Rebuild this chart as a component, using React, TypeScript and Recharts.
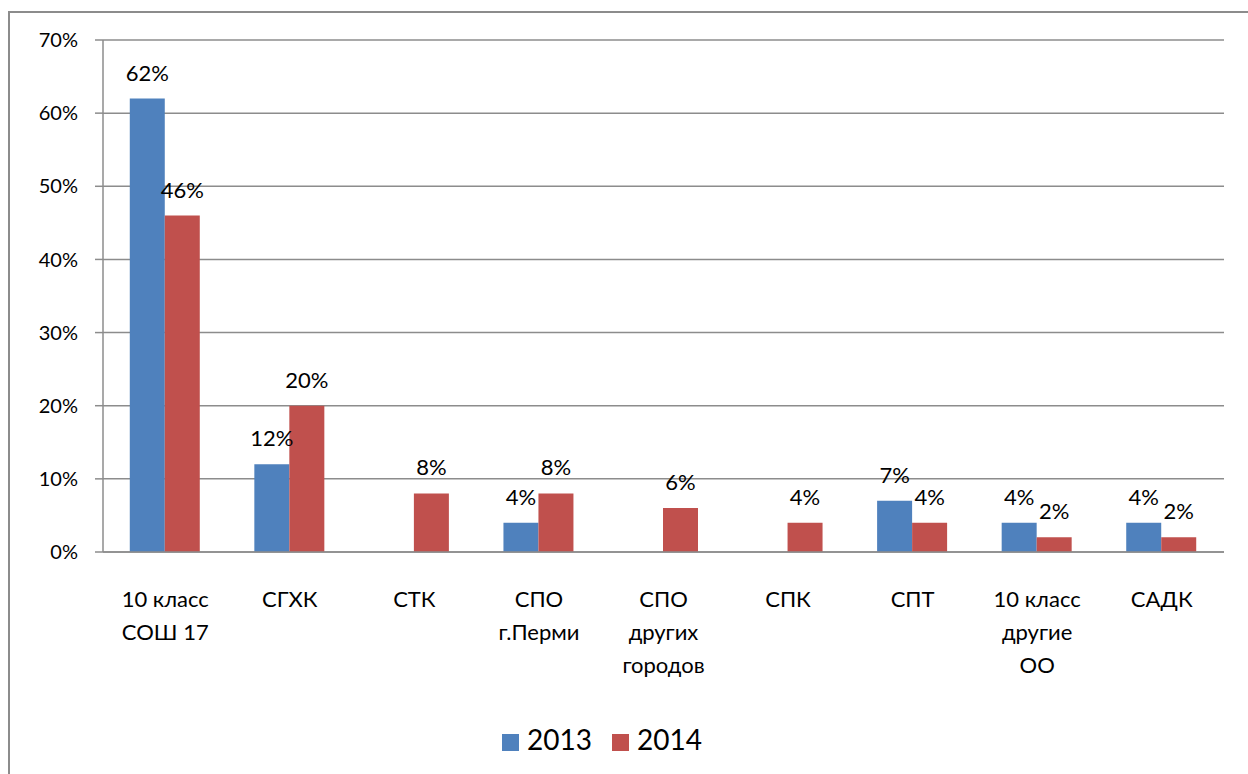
import { BarChart, Bar, XAxis, YAxis, CartesianGrid, Legend } from "recharts";

const categories = [
  "10 класс\nСОШ 17",
  "СГХК",
  "СТК",
  "СПО\nг.Перми",
  "СПО\nдругих\nгородов",
  "СПК",
  "СПТ",
  "10 класс\nдругие\nОО",
  "САДК",
];
const values2013 = [62, 12, 0, 4, 0, 0, 7, 4, 4];
const values2014 = [46, 20, 8, 8, 6, 4, 4, 2, 2];
const yTicks = [0, 10, 20, 30, 40, 50, 60, 70];
const boundaryTicks = [0, 1, 2, 3, 4, 5, 6, 7, 8, 9];

const data = categories.map((name, i) => ({
  name,
  idx: i,
  y2013: values2013[i],
  y2014: values2014[i],
}));

const FONT = "Lato, 'Open Sans', sans-serif";

const CategoryTick = (props: any) => {
  const { x, y, payload } = props;
  const lines = String(payload.value).split("\n");
  return (
    <g>
      {lines.map((line: string, i: number) => (
        <text
          key={i}
          x={x}
          y={y + 47 + i * 33}
          textAnchor="middle"
          fontSize={22}
          fontFamily={FONT}
          fill="#000"
        >
          {line}
        </text>
      ))}
    </g>
  );
};

const ValueLabel = (props: any) => {
  const { x, y, width, value } = props;
  if (!value) return null;
  return (
    <text
      x={x + width / 2}
      y={y - 18}
      textAnchor="middle"
      fontSize={22}
      fontFamily={FONT}
      fill="#000"
    >
      {value}%
    </text>
  );
};

export default function App() {
  return (
    <div
      style={{
        position: "absolute",
        left: 0,
        top: 0,
        width: 1248,
        height: 774,
        overflow: "hidden",
        background: "#fff",
      }}
    >
      <div
        style={{
          position: "absolute",
          left: 8,
          top: 11,
          width: 1300,
          height: 800,
          border: "2px solid #8c8c8c",
          boxSizing: "border-box",
        }}
      />
      <div style={{ position: "absolute", left: 0, top: 0 }}>
        <BarChart
          width={1248}
          height={774}
          data={data}
          margin={{ top: 40, right: 24, left: 0, bottom: 161 }}
          barCategoryGap="21.5%"
          barGap={0}
        >
          <CartesianGrid vertical={false} stroke="#8c8c8c" strokeWidth={1.5} />
          <XAxis
            dataKey="name"
            interval={0}
            tickLine={false}
            axisLine={{ stroke: "#8c8c8c", strokeWidth: 1.5 }}
            tick={<CategoryTick />}
          />
          <XAxis
            xAxisId="bounds"
            type="number"
            domain={[0, 9]}
            ticks={boundaryTicks}
            tick={false}
            tickSize={8}
            tickLine={{ stroke: "#8c8c8c", strokeWidth: 1.5 }}
            axisLine={false}
            height={1}
          />
          <YAxis
            width={103}
            domain={[0, 70]}
            ticks={yTicks}
            tickFormatter={(v) => `${v}%`}
            tickSize={8}
            tickMargin={17}
            tickLine={{ stroke: "#8c8c8c", strokeWidth: 1.5 }}
            axisLine={{ stroke: "#8c8c8c", strokeWidth: 1.5 }}
            tick={{ fontSize: 20, fontFamily: FONT, fill: "#000" }}
          />
          <Legend
            verticalAlign="bottom"
            align="center"
            iconType="square"
            iconSize={17}
            height={30}
            wrapperStyle={{ fontFamily: FONT, fontSize: 28, bottom: 22 }}
            formatter={(v) => (
              <span style={{ color: "#000", marginLeft: 4, marginRight: 10 }}>{v}</span>
            )}
          />
          <Bar
            dataKey="y2013"
            name="2013"
            fill="#4F81BD"
            isAnimationActive={false}
            label={<ValueLabel />}
          />
          <Bar
            dataKey="y2014"
            name="2014"
            fill="#C0504D"
            isAnimationActive={false}
            label={<ValueLabel />}
          />
        </BarChart>
      </div>
    </div>
  );
}
